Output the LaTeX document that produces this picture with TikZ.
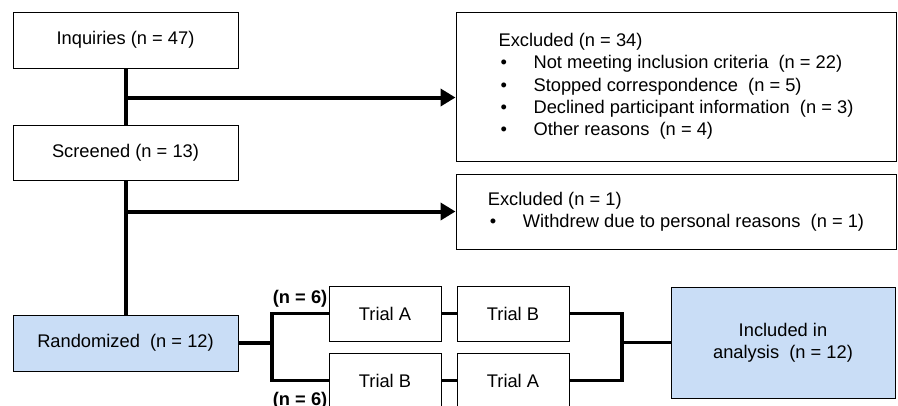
\documentclass[tikz,border=0pt]{standalone}
\usepackage{fontspec}
\setmainfont{Liberation Sans}
\usetikzlibrary{arrows.meta}
\definecolor{boxblue}{RGB}{201,221,246}
\newcommand{\itm}[1]{\makebox[35pt][l]{\hspace{2pt}\textbullet}#1}
\begin{document}
\begin{tikzpicture}[x=1pt,y=-1pt,font=\fontsize{18.3}{22.3}\selectfont,
  box/.style={draw,line width=1pt,inner sep=0,align=center},
  listbox/.style={box,align=left},
  flow/.style={line width=4pt},
  link/.style={line width=3.2pt},
  arr/.style={flow,-{Triangle[length=15pt,width=17pt]}}]
\useasboundingbox (0,0) rectangle (898,405);
\node[box,minimum width=225pt,minimum height=56pt](inq)at(125.5,40){Inquiries (n = 47)};
\node[box,minimum width=225pt,minimum height=55pt](scr)at(125.5,152.5){Screened (n = 13)};
\node[box,fill=boxblue,minimum width=225pt,minimum height=56pt](rand)at(125.5,343){Randomized~ (n = 12)};
\node[listbox,minimum width=440pt,minimum height=149pt](exc1)at(676,86.5){Excluded (n = 34)\\
  \itm{Not meeting inclusion criteria~ (n = 22)}\\
  \itm{Stopped correspondence~ (n = 5)}\\
  \itm{Declined participant information~ (n = 3)}\\
  \itm{Other reasons~ (n = 4)}};
\node[listbox,minimum width=440pt,minimum height=75pt](exc2)at(676,211.5){Excluded (n = 1)\\
  \itm{Withdrew due to personal reasons~ (n = 1)}};
\node[box,minimum width=112pt,minimum height=55pt](ta1)at(385,313.5){Trial A};
\node[box,minimum width=112pt,minimum height=55pt](tb1)at(513,313.5){Trial B};
\node[box,minimum width=112pt,minimum height=55pt](tb2)at(385,380.5){Trial B};
\node[box,minimum width=112pt,minimum height=55pt](ta2)at(513,380.5){Trial A};
\node[box,fill=boxblue,minimum width=224pt,minimum height=111pt](incl)at(783,342.5){Included in\\analysis~ (n = 12)};
\node[anchor=east,inner sep=1pt,font=\fontsize{18.3}{22.3}\selectfont\bfseries](grp1)at([yshift=15pt]ta1.west){(n = 6)};
\node[anchor=east,inner sep=1pt,font=\fontsize{18.3}{22.3}\selectfont\bfseries](grp2)at([yshift=-20pt]tb2.west){(n = 6)};
% flow down
\draw[flow](inq.south)--(scr.north);
\draw[flow](scr.south)--(rand.north);
\coordinate(b1)at([yshift=-29pt]inq.south);
\draw[arr](b1)--(b1-|exc1.west);
\draw[arr](exc2.west-|scr.south)--(exc2.west);
% crossover
\coordinate(split)at(272,343);
\coordinate(merge)at(incl.west-|622,0);
\draw[link](rand.east)--(split);
\draw[link](ta1.west)-|(split)|-(tb2.west);
\draw[link](ta1.east)--(tb1.west);
\draw[link](tb2.east)--(ta2.west);
\draw[link](tb1.east)-|(merge)|-(ta2.east);
\draw[link](merge)--(incl.west);
\end{tikzpicture}
\end{document}
